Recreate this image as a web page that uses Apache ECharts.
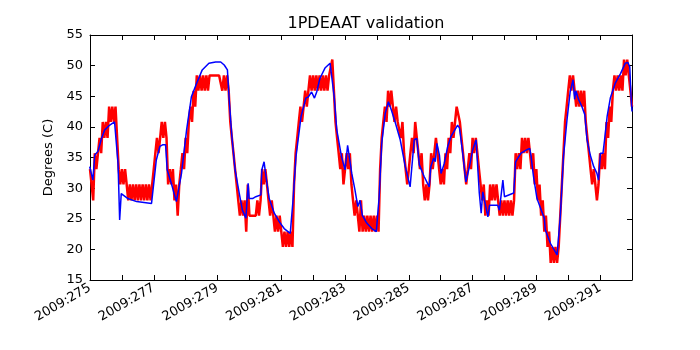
<!DOCTYPE html>
<html>
<head>
<meta charset="utf-8">
<script src="https://cdn.jsdelivr.net/npm/echarts@6/dist/echarts.min.js"></script>
<style>
  html, body { margin: 0; padding: 0; background: #fff; }
  #chart { width: 700px; height: 350px; }
</style>
</head>
<body>
<div id="chart"></div>
<script>
// measured telemetry (red), sampled every 0.05 day from 2009:275
var redStart = 275;
var redStep = 0.05;
var redV = [
  33.1, 30.6, 28.0, 35.7, 33.1, 35.7, 38.2, 35.7, 40.8, 38.2, 40.8, 38.2, 43.3, 40.8, 43.3, 40.8, 43.3, 38.2, 33.1, 30.6, // 275
  33.1, 30.6, 33.1, 30.6, 28.0, 30.6, 28.0, 30.6, 28.0, 30.6, 28.0, 30.6, 28.0, 30.6, 28.0, 30.6, 28.0, 30.6, 28.0, 30.6, // 276
  33.1, 35.7, 38.2, 35.7, 38.2, 40.8, 38.2, 40.8, 38.2, 30.6, 33.1, 30.6, 33.1, 28.0, 30.6, 25.5, 30.6, 33.1, 35.7, 33.1, // 277
  38.2, 35.7, 40.8, 43.3, 40.8, 45.9, 43.3, 48.4, 45.9, 48.4, 45.9, 48.4, 45.9, 48.4, 45.9, 48.4, 48.4, 48.4, 48.4, 48.4, // 278
  48.4, 48.4, 48.4, 45.9, 48.4, 45.9, 48.4, 45.9, 40.8, 38.2, 35.7, 33.1, 30.6, 28.0, 25.5, 28.0, 25.5, 28.0, 22.9, 30.6, // 279
  25.5, 25.5, 25.5, 25.5, 25.5, 28.0, 25.5, 28.0, 33.1, 30.6, 33.1, 30.6, 28.0, 25.5, 28.0, 25.5, 22.9, 25.5, 22.9, 25.5, // 280
  22.9, 20.4, 22.9, 20.4, 22.9, 20.4, 22.9, 20.4, 30.6, 35.7, 38.2, 40.8, 43.3, 40.8, 43.3, 45.9, 43.3, 45.9, 48.4, 45.9, // 281
  48.4, 45.9, 48.4, 45.9, 48.4, 45.9, 48.4, 45.9, 48.4, 45.9, 48.4, 48.4, 51.0, 45.9, 40.8, 38.2, 35.7, 33.1, 35.7, 30.6, // 282
  33.1, 35.7, 33.1, 35.7, 30.6, 28.0, 25.5, 28.0, 25.5, 22.9, 28.0, 22.9, 25.5, 22.9, 25.5, 22.9, 25.5, 22.9, 25.5, 22.9, // 283
  25.5, 22.9, 33.1, 38.2, 40.8, 43.3, 40.8, 45.9, 43.3, 45.9, 43.3, 40.8, 43.3, 40.8, 40.8, 38.2, 40.8, 35.7, 33.1, 30.6, // 284
  33.1, 35.7, 38.2, 35.7, 40.8, 38.2, 35.7, 33.1, 35.7, 30.6, 28.0, 30.6, 28.0, 30.6, 35.7, 33.1, 35.7, 38.2, 35.7, 33.1, // 285
  30.6, 33.1, 30.6, 35.7, 33.1, 38.2, 35.7, 40.8, 38.2, 40.8, 43.3, 43.3, 40.8, 38.2, 35.7, 33.1, 30.6, 33.1, 35.7, 33.1, // 286
  38.2, 35.7, 38.2, 35.7, 33.1, 30.6, 28.0, 30.6, 25.5, 28.0, 25.5, 30.6, 28.0, 30.6, 28.0, 30.6, 28.0, 25.5, 28.0, 25.5, // 287
  28.0, 25.5, 28.0, 25.5, 28.0, 25.5, 28.0, 35.7, 33.1, 35.7, 33.1, 38.2, 35.7, 38.2, 35.7, 38.2, 35.7, 33.1, 35.7, 30.6, // 288
  33.1, 28.0, 30.6, 25.5, 28.0, 22.9, 25.5, 20.4, 22.9, 17.8, 20.4, 17.8, 20.4, 17.8, 20.4, 25.5, 30.6, 35.7, 40.8, 43.3, // 289
  45.9, 48.4, 45.9, 48.4, 45.9, 43.3, 45.9, 43.3, 45.9, 43.3, 45.9, 40.8, 38.2, 35.7, 33.1, 30.6, 33.1, 30.6, 28.0, 30.6, // 290
  35.7, 33.1, 35.7, 33.1, 40.8, 38.2, 43.3, 40.8, 45.9, 48.4, 45.9, 48.4, 45.9, 48.4, 45.9, 51.0, 48.4, 51.0, 48.4, 45.9, // 291
  43.3
];

// model prediction (blue)
var blueT = [
  274.99, 275.09, 275.15, 275.25, 275.36, 275.46, 275.62, 275.77, 275.83, 275.88, 275.93, 275.98, 276.04, 276.19, 276.46, 276.93, 276.98,
  277.08, 277.19, 277.29, 277.37, 277.42, 277.55, 277.71, 277.87, 277.92, 278.03, 278.18, 278.32, 278.52, 278.73, 278.94,
  279.10, 279.21, 279.31, 279.36, 279.45, 279.55, 279.68, 279.78, 279.89, 279.96, 279.99, 280.10, 280.20, 280.36, 280.39, 280.46,
  280.52, 280.62, 280.78, 280.94, 281.09, 281.28, 281.36, 281.46, 281.62, 281.77, 281.85, 281.95, 282.04, 282.11, 282.21, 282.37,
  282.53, 282.58, 282.66, 282.74, 282.89, 283.00, 283.08, 283.14, 283.21, 283.31, 283.40, 283.47, 283.54, 283.68, 283.84, 283.98,
  284.07, 284.15, 284.26, 284.36, 284.45, 284.57, 284.73, 284.89, 285.04, 285.17, 285.25, 285.33, 285.48, 285.64, 285.69, 285.78,
  285.83, 285.88, 285.96, 286.01, 286.11, 286.22, 286.32, 286.53, 286.59, 286.69, 286.79, 286.90, 287.00, 287.11, 287.21, 287.27,
  287.32, 287.37, 287.48, 287.53, 287.79, 287.84, 287.95, 288.00, 288.29, 288.35, 288.42, 288.52, 288.68, 288.79, 288.83, 288.91,
  289.02, 289.17, 289.25, 289.28, 289.44, 289.65, 289.70, 289.75, 289.85, 289.96, 290.06, 290.15, 290.20, 290.24, 290.33, 290.43,
  290.52, 290.56, 290.59, 290.69, 290.80, 290.90, 290.95, 291.01, 291.09, 291.14, 291.22, 291.32, 291.48, 291.64, 291.79, 291.87,
  291.93, 291.97, 292.00
];
var blueV = [
  33.5, 31.3, 35.4, 36.0, 38.1, 39.5, 40.3, 40.8, 40.6, 34.0, 24.8, 29.1, 29.4, 28.3, 27.8, 27.5, 27.2,
  34.6, 36.8, 37.1, 37.1, 33.0, 30.8, 27.8, 32.4, 32.1, 39.5, 44.9, 46.8, 49.3, 50.4, 50.6,
  50.6, 50.1, 49.3, 44.9, 38.4, 33.0, 29.2, 26.4, 25.1, 30.8, 28.3, 28.3, 28.6, 28.9, 33.0, 34.3,
  31.9, 28.3, 25.9, 24.5, 23.4, 22.6, 27.5, 35.1, 41.7, 44.7, 44.9, 45.7, 44.7, 45.7, 47.9, 49.6,
  50.4, 50.6, 44.9, 39.5, 35.1, 33.0, 37.0, 37.0, 32.4, 29.7, 27.0, 28.0, 25.6, 24.3, 23.4, 22.9,
  28.6, 37.3, 42.2, 44.1, 42.8, 40.8, 37.9, 33.5, 30.2, 37.9, 38.1, 33.8, 31.9, 30.2, 33.5, 34.9,
  34.3, 37.3, 35.4, 32.4, 34.0, 36.8, 38.4, 40.3, 39.8, 35.7, 31.0, 33.5, 36.2, 37.9, 29.2, 25.9,
  29.4, 29.2, 25.3, 27.2, 27.2, 26.4, 31.3, 28.6, 29.2, 34.3, 34.9, 35.7, 36.2, 36.5, 35.4, 31.9,
  28.3, 26.2, 25.1, 23.2, 21.0, 19.1, 18.8, 25.3, 35.1, 41.1, 45.7, 47.7, 44.5, 45.9, 44.4, 43.3,
  42.0, 41.7, 37.9, 35.4, 33.5, 32.4, 31.3, 35.7, 35.7, 37.9, 41.7, 44.7, 47.2, 48.7, 50.4, 50.5,
  49.8, 44.9, 42.5
];

var redData = redV.map(function (v, i) {
  return [Math.round((redStart + i * redStep) * 100) / 100, v];
});
var blueData = blueT.map(function (t, i) { return [t, blueV[i]]; });

var font = 'DejaVu Sans';
var boxLine = { show: true, onZero: false, lineStyle: { color: '#000', width: 1 } };
var tick = { show: true, inside: true, length: 5, lineStyle: { color: '#000' } };

var chart = echarts.init(document.getElementById('chart'));
chart.setOption({
  animation: false,
  backgroundColor: '#fff',
  title: {
    text: '1PDEAAT validation',
    left: 361,
    top: 11,
    textAlign: 'center',
    textStyle: { fontFamily: font, fontSize: 16, fontWeight: 'normal', color: '#000' }
  },
  grid: { left: 90, right: 68, top: 35, bottom: 70 },
  xAxis: [{
    type: 'value',
    position: 'bottom',
    min: 275,
    max: 292,
    interval: 1,
    axisLine: boxLine,
    axisTick: tick,
    splitLine: { show: false },
    axisLabel: {
      rotate: 30,
      margin: 7,
      fontFamily: font,
      fontSize: 13,
      color: '#000',
      formatter: function (v) { return v % 2 === 1 ? '2009:' + v : ''; }
    }
  }, {
    type: 'value',
    position: 'top',
    min: 275,
    max: 292,
    interval: 1,
    axisLine: boxLine,
    axisTick: tick,
    splitLine: { show: false },
    axisLabel: { show: false }
  }],
  yAxis: [{
    type: 'value',
    position: 'left',
    min: 15,
    max: 55,
    interval: 5,
    name: 'Degrees (C)',
    nameLocation: 'middle',
    nameGap: 35,
    nameTextStyle: { fontFamily: font, fontSize: 13, color: '#000' },
    axisLine: boxLine,
    axisTick: tick,
    splitLine: { show: false },
    axisLabel: { margin: 7, fontFamily: font, fontSize: 13, color: '#000' }
  }, {
    type: 'value',
    position: 'right',
    min: 15,
    max: 55,
    interval: 5,
    axisLine: boxLine,
    axisTick: tick,
    splitLine: { show: false },
    axisLabel: { show: false }
  }],
  series: [{
    name: 'telemetry',
    type: 'line',
    data: redData,
    showSymbol: false,
    lineStyle: { color: '#ff0000', width: 2.5 },
    itemStyle: { color: '#ff0000' },
    z: 2
  }, {
    name: 'model',
    type: 'line',
    data: blueData,
    showSymbol: false,
    lineStyle: { color: '#0000ff', width: 1.5 },
    itemStyle: { color: '#0000ff' },
    z: 3
  }]
});
</script>
</body>
</html>
